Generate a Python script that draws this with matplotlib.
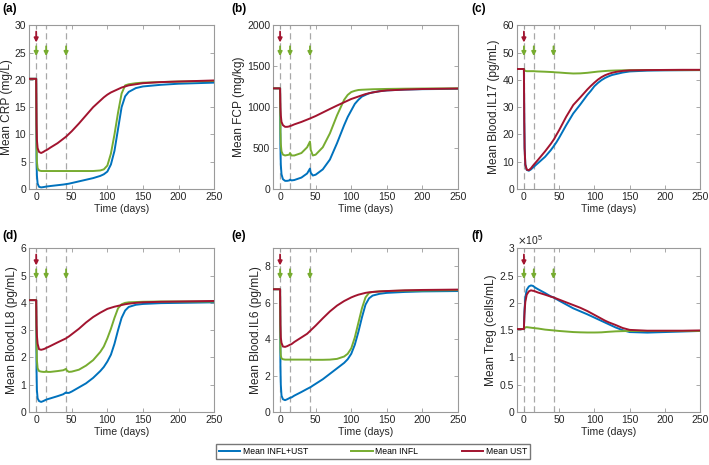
import matplotlib
matplotlib.use("Agg")
import matplotlib.pyplot as plt
import numpy as np

plt.rcParams['font.family'] = ['Liberation Sans', 'DejaVu Sans']

# time grid (days)
t = [-10, 0, 0.5, 1, 2, 4, 7, 10, 13, 14, 16, 20, 30, 38, 42, 43, 46, 50, 60, 70,
     80, 90, 95, 100, 105, 110, 115, 120, 125, 130, 140, 150, 175, 200, 225, 250]

# (a) CRP
crp_both = [20.2, 20.2, 5, 2.5, 1, 0.4, 0.3, 0.35, 0.42, 0.45, 0.48, 0.55, 0.7, 0.82, 0.9, 0.92, 0.98, 1.1, 1.4, 1.7,
            2.0, 2.4, 2.7, 3.2, 4.5, 7, 11, 15, 17, 17.8, 18.5, 18.8, 19.1, 19.3, 19.4, 19.5]
crp_infl = [20.2, 20.2, 8, 5, 3.8, 3.4, 3.3, 3.3, 3.3, 3.3, 3.3, 3.3, 3.3, 3.3, 3.3, 3.3, 3.3, 3.3, 3.3, 3.3,
            3.3, 3.4, 3.6, 4.3, 6.5, 10, 14, 17.5, 19, 19.2, 19.4, 19.5, 19.6, 19.7, 19.75, 19.8]
crp_ust = [20.2, 20.2, 12, 9, 7.5, 6.8, 6.6, 6.8, 7.05, 7.1, 7.25, 7.6, 8.4, 9.2, 9.6, 9.72, 10.1, 10.6, 12.0, 13.5,
           15, 16.2, 16.8, 17.3, 17.7, 18, 18.3, 18.6, 18.8, 19, 19.2, 19.4, 19.6, 19.7, 19.8, 19.9]

# (b) FCP
fcp_both = [1230, 1230, 500, 300, 180, 120, 100, 100, 105, 115, 105, 110, 140, 190, 250, 200, 165, 175, 240, 360,
            560, 780, 880, 960, 1040, 1090, 1130, 1150, 1170, 1180, 1195, 1205, 1215, 1220, 1222, 1225]
fcp_infl = [1230, 1230, 700, 550, 460, 420, 410, 415, 420, 440, 410, 410, 440, 510, 580, 480, 410, 420, 510, 680,
            900, 1090, 1150, 1185, 1200, 1210, 1213, 1215, 1217, 1219, 1221, 1223, 1226, 1228, 1229, 1230]
fcp_ust = [1230, 1230, 1000, 900, 820, 780, 760, 760, 765, 770, 775, 790, 820, 848, 862, 866, 877, 892, 935, 978,
           1020, 1060, 1080, 1100, 1115, 1130, 1145, 1160, 1170, 1180, 1195, 1205, 1215, 1222, 1225, 1228]

# (c) Blood.IL17
il17_both = [44, 44, 25, 15, 9, 7, 6.7, 7.2, 7.9, 8.1, 8.6, 9.5, 11.8, 14.2, 15.6, 16.0, 17.1, 18.8, 23.4, 27.7,
             31, 34.5, 36, 37.7, 38.9, 39.9, 40.7, 41.3, 41.8, 42.1, 42.7, 43.1, 43.4, 43.5, 43.55, 43.6]
il17_infl = [44, 44, 43.7, 43.5, 43.3, 43.2, 43.2, 43.2, 43.2, 43.2, 43.15, 43.1, 43.0, 42.9, 42.85, 42.8, 42.75, 42.7, 42.5, 42.35,
             42.4, 42.6, 42.75, 42.9, 43.05, 43.15, 43.25, 43.35, 43.4, 43.45, 43.5, 43.55, 43.6, 43.6, 43.6, 43.6]
il17_ust = [44, 44, 25, 15, 9, 7.1, 6.9, 7.6, 8.6, 8.9, 9.5, 10.7, 13.8, 16.5, 18, 18.4, 19.8, 21.6, 26.5, 30.8,
            33.6, 36.5, 37.8, 39, 40.1, 41, 41.7, 42.2, 42.6, 42.9, 43.3, 43.5, 43.6, 43.65, 43.7, 43.7]

# (d) Blood.IL8
il8_both = [4.1, 4.1, 1.5, 0.8, 0.5, 0.4, 0.37, 0.4, 0.44, 0.45, 0.47, 0.5, 0.58, 0.65, 0.72, 0.7, 0.7, 0.75, 0.9, 1.05,
            1.25, 1.5, 1.65, 1.85, 2.1, 2.5, 3.0, 3.45, 3.72, 3.85, 3.93, 3.96, 3.99, 4.0, 4.01, 4.02]
il8_infl = [4.1, 4.1, 2.5, 1.9, 1.6, 1.5, 1.48, 1.47, 1.47, 1.5, 1.47, 1.47, 1.5, 1.53, 1.58, 1.52, 1.47, 1.48, 1.55, 1.7,
            1.9, 2.2, 2.4, 2.7, 3.05, 3.45, 3.8, 3.95, 4.0, 4.02, 4.03, 4.04, 4.05, 4.05, 4.05, 4.05]
il8_ust = [4.1, 4.1, 3.2, 2.8, 2.5, 2.3, 2.28, 2.3, 2.33, 2.35, 2.37, 2.42, 2.55, 2.65, 2.7, 2.72, 2.77, 2.85, 3.05, 3.28,
           3.48, 3.64, 3.71, 3.78, 3.82, 3.86, 3.89, 3.92, 3.95, 3.97, 4.0, 4.02, 4.04, 4.05, 4.06, 4.07]

# (e) Blood.IL6
il6_both = [6.75, 6.75, 2.5, 1.5, 0.9, 0.7, 0.65, 0.7, 0.76, 0.78, 0.8, 0.9, 1.1, 1.27, 1.35, 1.37, 1.45, 1.55, 1.8, 2.1,
            2.4, 2.7, 2.9, 3.2, 3.7, 4.4, 5.2, 5.9, 6.25, 6.4, 6.5, 6.55, 6.6, 6.63, 6.64, 6.65]
il6_infl = [6.75, 6.75, 3.5, 3.1, 2.95, 2.9, 2.88, 2.88, 2.88, 2.88, 2.88, 2.88, 2.88, 2.88, 2.88, 2.88, 2.87, 2.87, 2.87, 2.88,
            2.92, 3.05, 3.2, 3.5, 4.1, 4.9, 5.7, 6.3, 6.55, 6.6, 6.63, 6.65, 6.67, 6.68, 6.69, 6.7]
il6_ust = [6.75, 6.75, 4.8, 4.1, 3.8, 3.6, 3.58, 3.62, 3.68, 3.7, 3.73, 3.85, 4.1, 4.3, 4.45, 4.49, 4.6, 4.75, 5.15, 5.53,
           5.85, 6.1, 6.2, 6.3, 6.38, 6.45, 6.5, 6.55, 6.58, 6.6, 6.63, 6.65, 6.69, 6.71, 6.72, 6.73]

# (f) Treg (x1e5)
treg_both = [1.52, 1.52, 1.75, 1.9, 2.1, 2.24, 2.3, 2.32, 2.31, 2.3, 2.28, 2.25, 2.18, 2.12, 2.1, 2.09, 2.07, 2.04, 1.97, 1.9,
             1.845, 1.79, 1.76, 1.73, 1.7, 1.67, 1.64, 1.61, 1.58, 1.55, 1.5, 1.465, 1.455, 1.465, 1.475, 1.485]
treg_infl = [1.52, 1.52, 1.53, 1.54, 1.55, 1.555, 1.55, 1.545, 1.54, 1.54, 1.535, 1.53, 1.51, 1.5, 1.495, 1.495, 1.49, 1.485, 1.475, 1.465,
             1.46, 1.457, 1.457, 1.457, 1.458, 1.46, 1.465, 1.47, 1.474, 1.478, 1.482, 1.485, 1.485, 1.485, 1.485, 1.485]
treg_ust = [1.52, 1.52, 1.72, 1.85, 2.02, 2.15, 2.21, 2.23, 2.22, 2.22, 2.21, 2.19, 2.15, 2.115, 2.1, 2.095, 2.08, 2.06, 2.01, 1.96,
            1.91, 1.85, 1.815, 1.78, 1.745, 1.71, 1.675, 1.645, 1.62, 1.595, 1.54, 1.505, 1.49, 1.49, 1.49, 1.495]

panels = [
    ("(a)", "Mean CRP (mg/L)", [0, 30], [0, 5, 10, 15, 20, 25, 30], crp_both, crp_infl, crp_ust, 1),
    ("(b)", "Mean FCP (mg/kg)", [0, 2000], [0, 500, 1000, 1500, 2000], fcp_both, fcp_infl, fcp_ust, 1),
    ("(c)", "Mean Blood.IL17 (pg/mL)", [0, 60], [0, 10, 20, 30, 40, 50, 60], il17_both, il17_infl, il17_ust, 1),
    ("(d)", "Mean Blood.IL8 (pg/mL)", [0, 6], [0, 1, 2, 3, 4, 5, 6], il8_both, il8_infl, il8_ust, 1),
    ("(e)", "Mean Blood.IL6 (pg/mL)", [0, 9], [0, 2, 4, 6, 8], il6_both, il6_infl, il6_ust, 1),
    ("(f)", "Mean Treg (cells/mL)", [0, 3], [0, 0.5, 1, 1.5, 2, 2.5, 3], treg_both, treg_infl, treg_ust, 1e5),
]

dose_days = [0, 14, 42]
ust_days = [0]

c_blue = '#0072BD'
c_green = '#77AC30'
c_red = '#A2142F'
txt = '#262626'
edge = '#9a9a9a'

fig = plt.figure(figsize=(7.09, 4.65), dpi=100)
lefts = [0.041, 0.385, 0.729]
widths = [0.261, 0.261, 0.2585]
bottoms = [0.5935, 0.114]
lab_x = [2, 231, 471]
lab_y = [9, 236]

lines = []
for i, (lab, ylab, ylim, yt, yb, yi, yu, scale) in enumerate(panels):
    r, c = divmod(i, 3)
    ax = fig.add_axes([lefts[c], bottoms[r], widths[c], 0.352])
    for d in dose_days:
        ax.axvline(d, color='#a8a8a8', ls=(0, (5, 3)), lw=0.9, zorder=1)
    l1, = ax.plot(t, yb, color=c_blue, lw=1.4, zorder=3)
    l2, = ax.plot(t, yi, color=c_green, lw=1.4, zorder=3)
    l3, = ax.plot(t, yu, color=c_red, lw=1.4, zorder=4)
    lines = [l1, l2, l3]
    # dose arrows
    for d in ust_days:
        ax.annotate('', xy=(d, 0.895), xytext=(d, 0.962), xycoords=('data', 'axes fraction'),
                    arrowprops=dict(arrowstyle='-|>', color=c_red, lw=1.3, mutation_scale=6, shrinkA=0, shrinkB=0))
    for d in dose_days:
        ax.annotate('', xy=(d, 0.812), xytext=(d, 0.872), xycoords=('data', 'axes fraction'),
                    arrowprops=dict(arrowstyle='-|>', color=c_green, lw=1.3, mutation_scale=6, shrinkA=0, shrinkB=0))
    ax.set_xlim(-10, 250)
    ax.set_ylim(*ylim)
    ax.set_yticks(yt)
    ax.set_yticklabels([('%g' % v) for v in yt])
    ax.set_xticks([0, 50, 100, 150, 200, 250])
    ax.tick_params(direction='in', length=3, width=0.6, colors=txt, labelsize=7.5,
                   top=True, right=True, labelcolor=txt, pad=2)
    ax.tick_params(axis='both', color=edge)
    for s in ax.spines.values():
        s.set_color(edge)
        s.set_linewidth(0.8)
    ax.set_xlabel('Time (days)', fontsize=7.6, color=txt, labelpad=1.5)
    ax.set_ylabel(ylab, fontsize=8.6, color=txt, labelpad=1.5)
    fig.text(lab_x[c] / 709, 1 - lab_y[r] / 465, lab, fontsize=8.5, fontweight='bold',
             color='black', ha='left', va='center')
    if scale != 1:
        ax.text(0.0, 1.005, r'$\times\mathregular{10^5}$', transform=ax.transAxes, fontsize=7.5,
                color=txt, ha='left', va='bottom')

fig.legend(lines, ['Mean INFL+UST', 'Mean INFL', 'Mean UST'], loc='center',
           bbox_to_anchor=(0.526, 0.029), ncol=3, fontsize=6.2, frameon=True, fancybox=False,
           edgecolor='#555555', handlelength=2.5, columnspacing=5.0, handletextpad=0.3,
           borderpad=0.4, borderaxespad=0)

fig.savefig('out.png', dpi=100)
